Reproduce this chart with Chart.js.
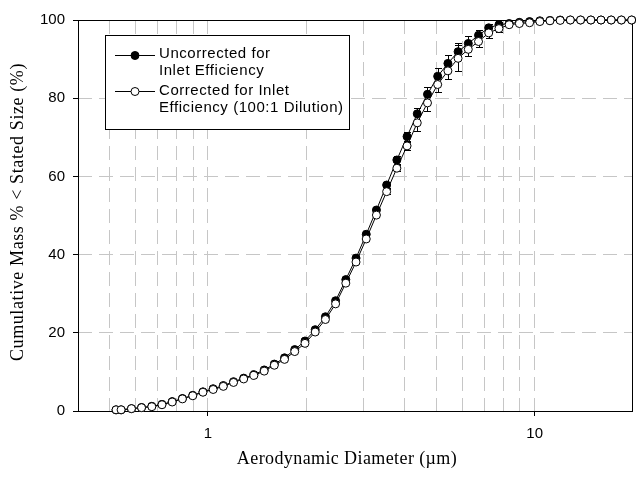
<!DOCTYPE html>
<html><head><meta charset="utf-8">
<script src="https://cdn.jsdelivr.net/npm/chart.js@4.4.0/dist/chart.umd.min.js"></script>
<style>html,body{margin:0;padding:0;background:#fff;}</style>
</head><body>
<canvas id="c" width="638" height="478"></canvas>
<script>
// Aerodynamic diameter channel midpoints (µm)
const diameters = [0.523,0.542,0.583,0.626,0.673,0.723,0.777,0.835,0.898,0.965,1.037,1.114,1.197,1.286,1.382,1.486,1.596,1.715,1.843,1.981,2.129,2.288,2.458,2.642,2.839,3.051,3.278,3.523,3.786,4.068,4.371,4.698,5.048,5.425,5.829,6.264,6.732,7.234,7.774,8.354,8.977,9.647,10.37,11.14,11.97,12.86,13.82,14.86,15.96,17.15,18.43,19.81];
// Cumulative mass % < stated size
const uncorrected = [0.3,0.3,0.6,0.9,1.2,1.7,2.4,3.2,4.0,4.9,5.7,6.5,7.5,8.4,9.3,10.5,12.0,13.6,15.7,17.9,20.8,24.1,28.2,33.6,39.1,45.2,51.4,57.8,64.2,70.2,76.0,81.0,85.6,88.9,91.9,94.0,96.1,98.0,98.8,99.1,99.4,99.6,99.8,99.9,100,100,100,100,100,100,100,100];
const corrected = [0.3,0.3,0.6,0.85,1.1,1.6,2.3,3.1,3.9,4.8,5.5,6.3,7.3,8.2,9.1,10.2,11.7,13.2,15.2,17.3,20.2,23.4,27.4,32.7,38.1,44.0,50.1,56.1,62.1,67.8,73.7,78.8,83.5,87.0,90.2,92.5,94.5,96.7,97.8,98.8,99.1,99.3,99.6,99.8,99.9,100,100,100,100,100,100,100];
// error bar half-lengths (%)
const uncorrectedErr = [0,0,0,0,0,0,0,0,0,0,0,0,0,0,0,0,0,0,0,0,0,0,0,0,0,0,0.5,0.8,1.0,1.2,1.5,1.8,2.0,2.2,2.2,1.8,1.4,1.0,0.6,0.3,0,0,0,0,0,0,0,0,0,0,0,0];
const correctedErr = [0,0,0,0,0,0,0,0,0,0,0,0,0,0,0,0,0,0,0,0,0,0,0,0,0,0,0.5,0.6,0.8,1.1,2.0,2.1,2.0,2.1,3.3,1.8,1.4,1.3,0.8,0.4,0,0,0,0,0,0,0,0,0,0,0,0];
const xGridValues = [0.5,0.6,0.7,0.8,0.9,1,2,3,4,5,6,7,8,9,10];
const xTickLabels = {1:'1', 10:'10'};
const yTickValues = [0,20,40,60,80,100];
const seriesLabels = [['Uncorrected for','Inlet Efficiency'],['Corrected for Inlet','Efficiency (100:1 Dilution)']];
const xTitle = 'Aerodynamic Diameter (\u00B5m)';
const yTitle = 'Cumulative Mass % < Stated Size (%)';

const GRID = '#c6c6c6';
const SANS = "'Liberation Sans', Arial, sans-serif";
const SERIF = "'Liberation Serif', 'Times New Roman', serif";

const toPts = (ys) => diameters.map((d, i) => ({x: d, y: ys[i]}));

const errorBars = {
  id: 'errorBars',
  beforeDatasetsDraw(chart) {
    const ctx = chart.ctx, ys = chart.scales.y, a = chart.chartArea;
    ctx.save();
    ctx.strokeStyle = '#000'; ctx.lineWidth = 1;
    ctx.strokeRect(Math.round(a.left) + 0.5, Math.round(a.top) + 0.5, Math.round(a.right - a.left) - 1, Math.round(a.bottom - a.top));
    ctx.restore();
    ctx.save();
    ctx.beginPath(); ctx.rect(a.left, a.top - 1, a.right - a.left, a.bottom - a.top + 2); ctx.clip();
    ctx.strokeStyle = '#000'; ctx.lineWidth = 1;
    chart.data.datasets.forEach((ds, di) => {
      const meta = chart.getDatasetMeta(di);
      const errs = ds.errors || [];
      meta.data.forEach((pt, i) => {
        const e = errs[i];
        if (!e) return;
        const v = ds.data[i].y;
        const x = Math.round(pt.x) + 0.5;
        const y1 = Math.round(ys.getPixelForValue(v + e)) + 0.5;
        const y2 = Math.round(ys.getPixelForValue(v - e)) + 0.5;
        ctx.beginPath();
        ctx.moveTo(x, y1); ctx.lineTo(x, y2);
        ctx.moveTo(x - 3.5, y1); ctx.lineTo(x + 3.5, y1);
        ctx.moveTo(x - 3.5, y2); ctx.lineTo(x + 3.5, y2);
        ctx.stroke();
      });
    });
    ctx.restore();
  }
};

const boxLegendAndTitles = {
  id: 'boxLegendAndTitles',
  afterDraw(chart) {
    const ctx = chart.ctx;
    ctx.save();
    ctx.fillStyle = '#000';
    ctx.font = '18px ' + SERIF;
    ctx.textAlign = 'center'; ctx.textBaseline = 'middle';
    try { ctx.letterSpacing = '0.4px'; } catch (e) {}
    ctx.fillText(xTitle, 347, 459);
    ctx.save();
    ctx.translate(18, 212);
    ctx.rotate(-Math.PI / 2);
    try { ctx.letterSpacing = '0.6px'; } catch (e) {}
    ctx.fillText(yTitle, 0, 0);
    ctx.restore();
    try { ctx.letterSpacing = '0px'; } catch (e) {}
    ctx.fillStyle = '#fff'; ctx.strokeStyle = '#000'; ctx.lineWidth = 1;
    ctx.fillRect(105.5, 35.5, 244, 94);
    ctx.strokeRect(105.5, 35.5, 244, 94);
    const rows = [[55, 54, 71], [91, 91, 108]];
    const order = [1, 0];
    rows.forEach((r, k) => {
      const ds = chart.data.datasets[order[k]];
      try { ctx.letterSpacing = '0px'; } catch (e) {}
      ctx.strokeStyle = '#000'; ctx.lineWidth = 1;
      ctx.beginPath(); ctx.moveTo(115, r[0] + 0.5); ctx.lineTo(155, r[0] + 0.5); ctx.stroke();
      ctx.beginPath(); ctx.arc(135, r[0] + 0.5, 4, 0, Math.PI * 2);
      ctx.fillStyle = ds.pointBackgroundColor; ctx.fill(); ctx.stroke();
      ctx.fillStyle = '#000'; ctx.font = '15px ' + SANS; ctx.textBaseline = 'middle'; ctx.textAlign = 'left';
      try { ctx.letterSpacing = '0.55px'; } catch (e) {}
      ctx.fillText(seriesLabels[k][0], 159, r[1]);
      ctx.fillText(seriesLabels[k][1], 159, r[2]);
    });
    ctx.restore();
  }
};

new Chart(document.getElementById('c'), {
  type: 'scatter',
  data: {
    datasets: [
      {
        label: seriesLabels[1].join(' '),
        data: toPts(corrected), errors: correctedErr,
        showLine: true, borderColor: '#000', borderWidth: 1,
        pointRadius: 4, pointBorderWidth: 1, pointBackgroundColor: '#fff', pointBorderColor: '#000',
        order: 0, clip: false
      },
      {
        label: seriesLabels[0].join(' '),
        data: toPts(uncorrected), errors: uncorrectedErr,
        showLine: true, borderColor: '#000', borderWidth: 1,
        pointRadius: 4, pointBorderWidth: 1, pointBackgroundColor: '#000', pointBorderColor: '#000',
        order: 1, clip: false
      }
    ]
  },
  options: {
    responsive: false, animation: false, devicePixelRatio: 1,
    layout: { padding: { top: 20, right: 2, left: 0, bottom: 0 } },
    plugins: { legend: { display: false }, tooltip: { enabled: false } },
    scales: {
      x: {
        type: 'logarithmic', min: 0.4, max: 20,
        afterBuildTicks: (s) => { s.ticks = xGridValues.map(v => ({ value: v })); },
        afterFit: (s) => { s.height = 67; },
        ticks: {
          autoSkip: false, maxRotation: 0, minRotation: 0, padding: 9, color: '#000',
          font: { family: SANS, size: 15 },
          callback: (v) => xTickLabels[v] || ''
        },
        grid: {
          color: GRID, lineWidth: 1, drawTicks: true, tickLength: 5,
          tickColor: (c) => (c.tick && xTickLabels[c.tick.value]) ? '#000' : 'rgba(0,0,0,0)'
        },
        border: { display: false, dash: [14, 7] },
        title: { display: false, text: xTitle }
      },
      y: {
        type: 'linear', min: 0, max: 100,
        afterBuildTicks: (s) => { s.ticks = yTickValues.map(v => ({ value: v })); },
        afterFit: (s) => { s.width = 78; },
        ticks: { padding: 8, color: '#000', font: { family: SANS, size: 15 } },
        grid: {
          color: (c) => (c.tick && (c.tick.value === 0 || c.tick.value === 100)) ? 'rgba(0,0,0,0)' : GRID,
          lineWidth: 1, drawTicks: true, tickLength: 5, tickColor: '#000'
        },
        border: { display: false, dash: [14, 7] },
        title: { display: false, text: yTitle }
      }
    }
  },
  plugins: [errorBars, boxLegendAndTitles]
});
</script>
</body></html>
